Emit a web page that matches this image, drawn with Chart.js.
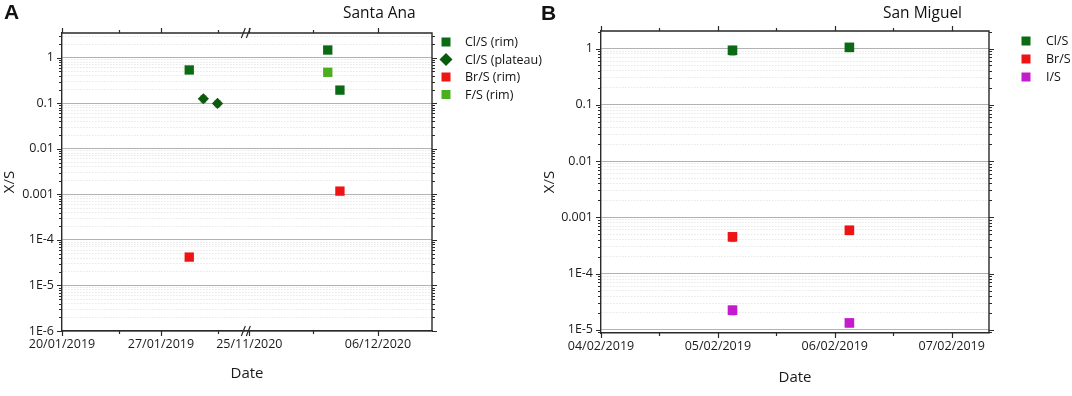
<!DOCTYPE html>
<html>
<head>
<meta charset="utf-8">
<script src="https://cdn.jsdelivr.net/npm/chart.js@4.4.1/dist/chart.umd.min.js"></script>
<style>
  body { margin: 0; background: #fff; }
  #wrap { position: relative; width: 1072px; height: 396px; overflow: hidden; font-family: "Open Sans", sans-serif; color: #111; }
  canvas { position: absolute; top: 0; }
  .letter { position: absolute; font-family: "Liberation Sans", Arial, sans-serif; font-weight: bold; font-size: 21px; }
  .title { position: absolute; font-size: 15.5px; }
</style>
</head>
<body>
<div id="wrap">
  <canvas id="chartA" width="560" height="396" style="left:0"></canvas>
  <canvas id="chartB" width="532" height="396" style="left:540px"></canvas>
  <div class="letter" style="left:4px;top:0px">A</div>
  <div class="letter" style="left:541px;top:1px">B</div>
  <div class="title" style="left:343px;top:1px">Santa Ana</div>
  <div class="title" style="left:883px;top:1px">San Miguel</div>
</div>
<script>
// ---- Panel A : Santa Ana (broken date axis) ----
const clRimDatesA = ['2019-01-29', '2020-12-01T17:00', '2020-12-02T18:00'];
const clRimA = [0.54, 1.48, 0.195];
const clRimErrA = [0.07, 0.18, 0.03];

const clPlatDatesA = ['2019-01-30', '2019-01-31'];
const clPlatA = [0.126, 0.0995];
const clPlatErrA = [0.02, 0.016];

const brRimDatesA = ['2019-01-29', '2020-12-02T18:00'];
const brRimA = [4.2e-5, 1.18e-3];
const brRimErrA = [4e-6, 1.2e-4];

const fRimDatesA = ['2020-12-01T17:00'];
const fRimA = [0.48];
const fRimErrA = [0.05];

const xTickDatesA = ['2019-01-20', '2019-01-24', '2019-01-27', '2019-01-31', '2020-11-25', '2020-11-30T11:00', '2020-12-06'];
const xTickLabelsA = ['20/01/2019', '', '27/01/2019', '', '25/11/2020', '', '06/12/2020'];
const xRangeA = ['2019-01-20', '2020-12-10T15:00'];
const yTickLabelsA = ['1E-6', '1E-5', '1E-4', '0.001', '0.01', '0.1', '1'];
const yRangeA = [1e-6, 3.5];

// ---- Panel B : San Miguel ----
const datesB = ['2019-02-05T03:00', '2019-02-06T03:00'];
const clB = [0.93, 1.05];
const clErrB = [0.17, 0.17];
const brB = [4.5e-4, 5.9e-4];
const brErrB = [8e-5, 1e-4];
const iB = [2.24e-5, 1.33e-5];
const iErrB = [4e-6, 2e-6];

const xTickDatesB = ['2019-02-04', '2019-02-04T12:00', '2019-02-05', '2019-02-05T12:00', '2019-02-06', '2019-02-06T12:00', '2019-02-07'];
const xTickLabelsB = ['04/02/2019', '', '05/02/2019', '', '06/02/2019', '', '07/02/2019'];
const xRangeB = ['2019-02-04', '2019-02-07T07:40'];
const yTickLabelsB = ['1E-5', '1E-4', '0.001', '0.01', '0.1', '1'];
const yRangeB = [8.8e-6, 2.05];

const CL = '#0b6b14', CL_PLAT = '#0a5a0c', BR = '#ee1414', F = '#4bae1f', I = '#c41ccc';
const DAY = 86400000;

function ms(d) { return Date.parse(d.length === 10 ? d + 'T00:00Z' : d + 'Z'); }

// broken axis: 2019 part in days, 2020 part compressed after the break
const seg2Start = ms('2020-11-25');
const breakAt = 13.25, seg2Scale = 0.827;
function posA(d) {
  const t = ms(d);
  if (t < seg2Start) return (t - ms('2019-01-20')) / DAY;
  return breakAt + (t - seg2Start) / DAY * seg2Scale;
}
function posB(d) { return (ms(d) - ms('2019-02-04')) / DAY; }

function pts(dates, vals, pos) { return dates.map((d, i) => ({ x: pos(d), y: vals[i] })); }

function isDecade(v) { const l = Math.log10(v); return Math.abs(l - Math.round(l)) < 1e-6; }

function logTicks(min, max) {
  const out = [];
  for (let e = Math.floor(Math.log10(min)); e <= Math.ceil(Math.log10(max)); e++) {
    for (let m = 1; m <= 9; m++) {
      const v = Number((m * Math.pow(10, e)).toPrecision(3));
      if (v >= min * 0.999 && v <= max * 1.001) out.push({ value: v });
    }
  }
  return out;
}

// error bars behind markers
const errorBars = {
  id: 'errorBars',
  beforeDatasetsDraw(chart) {
    const { ctx, scales: { x, y } } = chart;
    ctx.save();
    ctx.strokeStyle = '#9a9a9a';
    ctx.lineWidth = 1;
    chart.data.datasets.forEach(ds => {
      if (!ds.errors) return;
      ds.data.forEach((p, i) => {
        const px = x.getPixelForValue(p.x);
        const y1 = y.getPixelForValue(p.y + ds.errors[i]);
        const y2 = y.getPixelForValue(Math.max(p.y - ds.errors[i], p.y * 0.05));
        ctx.beginPath();
        ctx.moveTo(px, y1); ctx.lineTo(px, y2);
        ctx.moveTo(px - 3, y1); ctx.lineTo(px + 3, y1);
        ctx.moveTo(px - 3, y2); ctx.lineTo(px + 3, y2);
        ctx.stroke();
      });
    });
    ctx.restore();
  }
};

// axis frame, tick marks on all sides, break symbol, legend
const frame = {
  id: 'frame',
  afterDraw(chart, args, opts) {
    const { ctx, chartArea: a, scales: { x, y } } = chart;
    ctx.save();
    ctx.strokeStyle = '#2a2a2a';
    ctx.lineWidth = 1.4;
    ctx.beginPath();
    ctx.moveTo(a.left, a.top); ctx.lineTo(a.right, a.top); ctx.lineTo(a.right, a.bottom);
    ctx.stroke();
    ctx.lineWidth = 1.2;
    ctx.beginPath();
    x.ticks.forEach(t => {
      const px = Math.round(x.getPixelForValue(t.value)) + 0.5;
      const len = t.label ? 5 : 3;
      ctx.moveTo(px, a.bottom); ctx.lineTo(px, a.bottom + len);
      ctx.moveTo(px, a.top); ctx.lineTo(px, a.top - len);
    });
    y.ticks.forEach(t => {
      const py = Math.round(y.getPixelForValue(t.value)) + 0.5;
      const len = t.label ? 5 : 3;
      ctx.moveTo(a.left - len, py); ctx.lineTo(a.left, py);
      ctx.moveTo(a.right, py); ctx.lineTo(a.right + len, py);
    });
    ctx.stroke();
    if (opts.breakAt != null) {
      const bx = x.getPixelForValue(opts.breakAt) - 2;
      ctx.lineWidth = 1.2;
      [a.top, a.bottom].forEach(by => {
        ctx.beginPath();
        ctx.moveTo(bx - 6, by + 5); ctx.lineTo(bx - 2, by - 5);
        ctx.moveTo(bx - 1, by + 5); ctx.lineTo(bx + 3, by - 5);
        ctx.stroke();
      });
    }
    // legend
    const lg = opts.legend;
    ctx.font = '12.5px "Open Sans"';
    ctx.textBaseline = 'middle';
    ctx.fillStyle = '#111';
    chart.data.datasets.forEach((ds, i) => {
      const cy = lg.y + i * lg.dy;
      ctx.fillStyle = ds.backgroundColor;
      if (ds.pointStyle === 'rectRot') {
        ctx.beginPath();
        ctx.moveTo(lg.x - 6.5, cy); ctx.lineTo(lg.x, cy - 6.5);
        ctx.lineTo(lg.x + 6.5, cy); ctx.lineTo(lg.x, cy + 6.5);
        ctx.closePath(); ctx.fill();
      } else {
        ctx.fillRect(lg.x - 4.5, cy - 4.5, 9, 9);
      }
      ctx.fillStyle = '#111';
      ctx.fillText(ds.label, lg.tx, cy + 0.5);
    });
    ctx.restore();
  }
};

function makeChart(id, cfg) {
  const yLabelMap = {};
  cfg.yLabels.forEach((l, i) => { yLabelMap[i] = l; });
  const firstExp = Math.ceil(Math.log10(cfg.yRange[0]) - 1e-9);
  return new Chart(document.getElementById(id), {
    type: 'scatter',
    data: { datasets: cfg.datasets },
    options: {
      responsive: false,
      animation: false,
      layout: { padding: cfg.padding },
      plugins: {
        legend: { display: false },
        tooltip: { enabled: false },
        frame: { legend: cfg.legend, breakAt: cfg.breakAt }
      },
      scales: {
        x: {
          type: 'linear',
          min: cfg.xRange[0],
          max: cfg.xRange[1],
          afterFit: s => { s.height = cfg.xHeight; },
          afterBuildTicks: s => { s.ticks = cfg.xTicks.map(v => ({ value: v })); },
          grid: { display: false, drawTicks: false },
          border: { color: '#2a2a2a', width: 1.4 },
          ticks: {
            autoSkip: false, maxRotation: 0, padding: 6, color: '#1a1a1a',
            font: { family: 'Open Sans', size: 12.5 },
            callback: (v, i) => cfg.xLabels[i]
          },
          title: { display: true, text: 'Date', color: '#1a1a1a', font: { family: 'Open Sans', size: 15 }, padding: { bottom: cfg.titlePad } }
        },
        y: {
          type: 'logarithmic',
          min: cfg.yRange[0],
          max: cfg.yRange[1],
          afterFit: s => { s.width = cfg.yWidth; },
          afterBuildTicks: s => { s.ticks = logTicks(cfg.yRange[0], cfg.yRange[1]); },
          grid: {
            drawTicks: false,
            lineWidth: 1,
            color: c => isDecade(c.tick.value) ? '#b2b2b2' : '#dcdcdc'
          },
          border: {
            color: '#2a2a2a', width: 1.4,
            dash: c => (c.tick && !isDecade(c.tick.value)) ? [1, 2] : []
          },
          ticks: {
            autoSkip: false, padding: 8, color: '#1a1a1a',
            font: { family: 'Open Sans', size: 12.5 },
            callback: v => isDecade(v) ? yLabelMap[Math.round(Math.log10(v)) - firstExp] : ''
          },
          title: { display: true, text: 'X/S', color: '#1a1a1a', font: { family: 'Open Sans', size: 15 }, padding: { top: 1 } }
        }
      }
    },
    plugins: [errorBars, frame]
  });
}

function ds(label, data, errors, color, style, r) {
  return { label, data, errors, backgroundColor: color, borderColor: color, borderWidth: 0, pointStyle: style, pointRadius: r, pointHoverRadius: r };
}

makeChart('chartA', {
  datasets: [
    ds('Cl/S (rim)', pts(clRimDatesA, clRimA, posA), clRimErrA, CL, 'rect', 6.6),
    ds('Cl/S (plateau)', pts(clPlatDatesA, clPlatA, posA), clPlatErrA, CL_PLAT, 'rectRot', 5.6),
    ds('Br/S (rim)', pts(brRimDatesA, brRimA, posA), brRimErrA, BR, 'rect', 6.6),
    ds('F/S (rim)', pts(fRimDatesA, fRimA, posA), fRimErrA, F, 'rect', 6.6)
  ],
  xRange: xRangeA.map(posA),
  xTicks: xTickDatesA.map(posA),
  xLabels: xTickLabelsA,
  yRange: yRangeA,
  yLabels: yTickLabelsA,
  padding: { top: 33, right: 128, left: 0, bottom: 0 },
  xHeight: 65, yWidth: 62, titlePad: 13,
  breakAt: breakAt,
  legend: { x: 446, y: 42, dy: 17.5, tx: 465 }
});

makeChart('chartB', {
  datasets: [
    ds('Cl/S', pts(datesB, clB, posB), clErrB, CL, 'rect', 6.8),
    ds('Br/S', pts(datesB, brB, posB), brErrB, BR, 'rect', 6.8),
    ds('I/S', pts(datesB, iB, posB), iErrB, I, 'rect', 6.8)
  ],
  xRange: xRangeB.map(posB),
  xTicks: xTickDatesB.map(posB),
  xLabels: xTickLabelsB,
  yRange: yRangeB,
  yLabels: yTickLabelsB,
  padding: { top: 31, right: 83, left: 0, bottom: 0 },
  xHeight: 63, yWidth: 61, titlePad: 9,
  breakAt: null,
  legend: { x: 486, y: 41, dy: 18, tx: 506 }
});
</script>
</body>
</html>
